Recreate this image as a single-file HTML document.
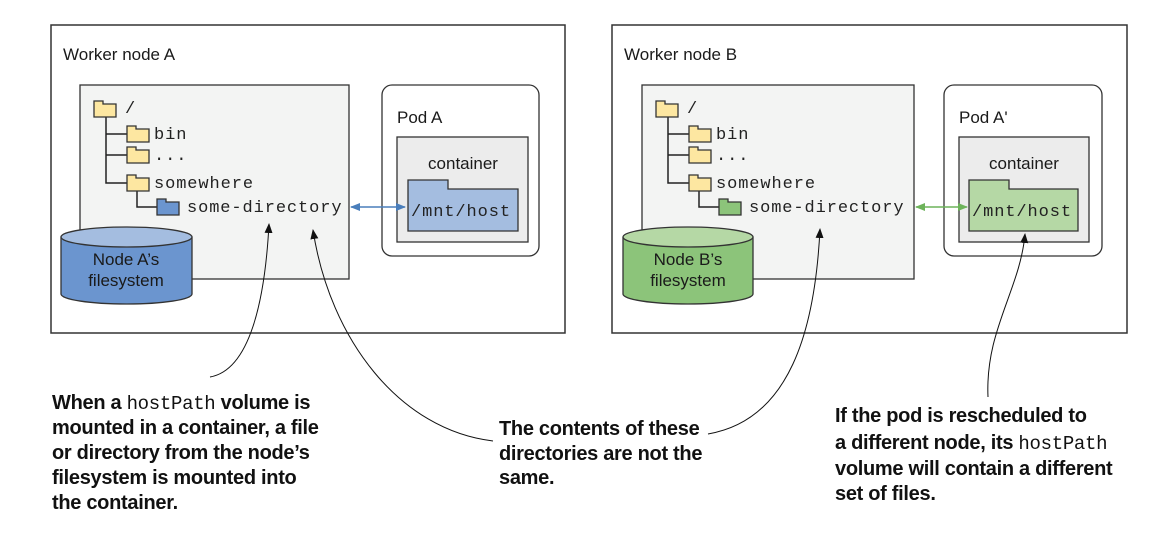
<!DOCTYPE html>
<html><head><meta charset="utf-8"><style>
html,body{margin:0;padding:0;background:#fff}
svg{display:block}
.s{font-family:"Liberation Sans",sans-serif;font-size:17px;fill:#1a1a1a}
.m{font-family:"Liberation Mono",monospace;font-size:17px;fill:#222;letter-spacing:0.9px}
.b{font-family:"Liberation Sans",sans-serif;font-size:20px;font-weight:bold;fill:#111;letter-spacing:-0.3px}
.bm{font-family:"Liberation Mono",monospace;font-size:19px;font-weight:normal}
</style></head><body>
<svg width="1166" height="535" viewBox="0 0 1166 535" xmlns="http://www.w3.org/2000/svg">
<defs>
<marker id="ak" markerWidth="10" markerHeight="10" refX="9" refY="5" orient="auto" markerUnits="userSpaceOnUse"><path d="M0,1 L10,5 L0,9 z" fill="#111"/></marker>
<marker id="bl" markerWidth="10" markerHeight="10" refX="9" refY="5" orient="auto-start-reverse" markerUnits="userSpaceOnUse"><path d="M0,1 L10,5 L0,9 z" fill="#4a7ebb"/></marker>
<marker id="gr" markerWidth="10" markerHeight="10" refX="9" refY="5" orient="auto-start-reverse" markerUnits="userSpaceOnUse"><path d="M0,1 L10,5 L0,9 z" fill="#6db35a"/></marker>
<g id="fold"><path d="M0,0 H9 V3 H22 V16 H0 Z" stroke="#333" stroke-width="1.3"/></g>
</defs>

<!-- Node A -->
<rect x="51" y="25" width="514" height="308" fill="#fff" stroke="#333" stroke-width="1.5"/>
<text class="s" x="63" y="60">Worker node A</text>
<rect x="80" y="85" width="269" height="194" fill="#f3f4f3" stroke="#333" stroke-width="1.3"/>
<path d="M106,117 V183 H127 M106,134 H127 M106,155 H127 M137,190 V207 H157" fill="none" stroke="#222" stroke-width="1.5"/>
<use href="#fold" x="94" y="101" fill="#fde7a1"/>
<use href="#fold" x="127" y="126" fill="#fde7a1"/>
<use href="#fold" x="127" y="147" fill="#fde7a1"/>
<use href="#fold" x="127" y="175" fill="#fde7a1"/>
<use href="#fold" x="157" y="199" fill="#6b95cf"/>
<text class="m" x="125" y="113">/</text>
<text class="m" x="154" y="139">bin</text>
<text class="m" x="154" y="160">...</text>
<text class="m" x="154" y="188">somewhere</text>
<text class="m" x="187" y="212">some-directory</text>
<path d="M61,237 V294 A65.5,10 0 0 0 192,294 V237" fill="#6b95cf" stroke="#333" stroke-width="1.3"/>
<ellipse cx="126.5" cy="237" rx="65.5" ry="10" fill="#a4bde0" stroke="#333" stroke-width="1.3"/>
<text class="s" x="126" y="265" text-anchor="middle">Node A’s</text>
<text class="s" x="126" y="286" text-anchor="middle">filesystem</text>
<rect x="382" y="85" width="157" height="171" rx="10" fill="#fff" stroke="#333" stroke-width="1.3"/>
<text class="s" x="397" y="123">Pod A</text>
<rect x="397" y="137" width="131" height="105" fill="#ececec" stroke="#333" stroke-width="1.3"/>
<text class="s" x="463" y="169" text-anchor="middle">container</text>
<path d="M408,180 H448 V189 H518 V231 H408 Z" fill="#a4bde0" stroke="#333" stroke-width="1.3"/>
<text class="m" x="411" y="216">/mnt/host</text>
<line x1="351" y1="207" x2="405" y2="207" stroke="#4a7ebb" stroke-width="1.5" marker-start="url(#bl)" marker-end="url(#bl)"/>

<!-- Node B -->
<rect x="612" y="25" width="515" height="308" fill="#fff" stroke="#333" stroke-width="1.5"/>
<text class="s" x="624" y="60">Worker node B</text>
<rect x="642" y="85" width="272" height="194" fill="#f3f4f3" stroke="#333" stroke-width="1.3"/>
<path d="M668,117 V183 H689 M668,134 H689 M668,155 H689 M699,190 V207 H719" fill="none" stroke="#222" stroke-width="1.5"/>
<use href="#fold" x="656" y="101" fill="#fde7a1"/>
<use href="#fold" x="689" y="126" fill="#fde7a1"/>
<use href="#fold" x="689" y="147" fill="#fde7a1"/>
<use href="#fold" x="689" y="175" fill="#fde7a1"/>
<use href="#fold" x="719" y="199" fill="#8cc47a"/>
<text class="m" x="687" y="113">/</text>
<text class="m" x="716" y="139">bin</text>
<text class="m" x="716" y="160">...</text>
<text class="m" x="716" y="188">somewhere</text>
<text class="m" x="749" y="212">some-directory</text>
<path d="M623,237 V294 A65,10 0 0 0 753,294 V237" fill="#8cc47a" stroke="#333" stroke-width="1.3"/>
<ellipse cx="688" cy="237" rx="65" ry="10" fill="#b5d8a5" stroke="#333" stroke-width="1.3"/>
<text class="s" x="688" y="265" text-anchor="middle">Node B’s</text>
<text class="s" x="688" y="286" text-anchor="middle">filesystem</text>
<rect x="944" y="85" width="158" height="171" rx="10" fill="#fff" stroke="#333" stroke-width="1.3"/>
<text class="s" x="959" y="123">Pod A'</text>
<rect x="959" y="137" width="130" height="105" fill="#ececec" stroke="#333" stroke-width="1.3"/>
<text class="s" x="1024" y="169" text-anchor="middle">container</text>
<path d="M969,180 H1009 V189 H1078 V231 H969 Z" fill="#b5d8a5" stroke="#333" stroke-width="1.3"/>
<text class="m" x="972" y="216">/mnt/host</text>
<line x1="916" y1="207" x2="967" y2="207" stroke="#6db35a" stroke-width="1.5" marker-start="url(#gr)" marker-end="url(#gr)"/>

<!-- callout curves -->
<path d="M210,377 C250,370 265,300 269,224" fill="none" stroke="#111" stroke-width="1" marker-end="url(#ak)"/>
<path d="M493,441 C400,430 330,340 313,230" fill="none" stroke="#111" stroke-width="1" marker-end="url(#ak)"/>
<path d="M708,434 C790,420 815,330 820,229" fill="none" stroke="#111" stroke-width="1" marker-end="url(#ak)"/>
<path d="M988,397 C985,330 1020,290 1025,234" fill="none" stroke="#111" stroke-width="1" marker-end="url(#ak)"/>

<!-- annotations -->
<text class="b" x="52" y="409">When a <tspan class="bm">hostPath</tspan> volume is</text>
<text class="b" x="52" y="434">mounted in a container, a file</text>
<text class="b" x="52" y="459">or directory from the node’s</text>
<text class="b" x="52" y="484">filesystem is mounted into</text>
<text class="b" x="52" y="509">the container.</text>

<text class="b" x="499" y="435">The contents of these</text>
<text class="b" x="499" y="460">directories are not the</text>
<text class="b" x="499" y="484">same.</text>

<text class="b" x="835" y="422">If the pod is rescheduled to</text>
<text class="b" x="835" y="449">a different node, its <tspan class="bm">hostPath</tspan></text>
<text class="b" x="835" y="475">volume will contain a different</text>
<text class="b" x="835" y="500">set of files.</text>
</svg>
</body></html>
